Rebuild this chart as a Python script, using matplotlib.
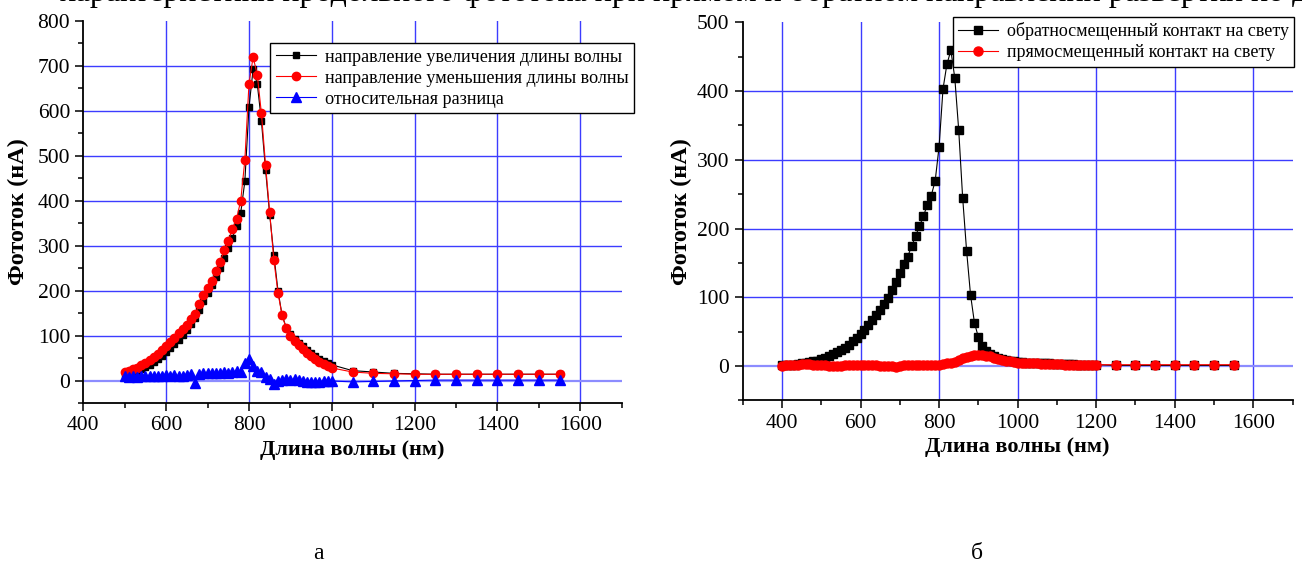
import numpy as np
import matplotlib.pyplot as plt
from matplotlib.ticker import MultipleLocator

plt.rcParams['font.family'] = ['Liberation Serif', 'DejaVu Serif']

# ---------------- данные: рисунок а ----------------
dl_a = [500, 510, 520, 530, 540, 550, 560, 570, 580, 590,
        600, 610, 620, 630, 640, 650, 660, 670, 680, 690,
        700, 710, 720, 730, 740, 750, 760, 770, 780, 790,
        800, 810, 820, 830, 840, 850, 860, 870, 880, 890,
        900, 910, 920, 930, 940, 950, 960, 970, 980, 990,
        1000, 1050, 1100, 1150, 1200, 1250, 1300, 1350, 1400, 1450,
        1500, 1550]

uvelich = [10, 13, 17, 21, 25, 30, 35, 41, 48, 55,
           63, 72, 81, 91, 101, 112, 125, 140, 157, 176,
           195, 212, 230, 250, 272, 295, 318, 343, 373, 443,
           608, 693, 660, 578, 469, 369, 280, 200, 145, 118,
           103, 93, 84, 76, 68, 61, 55, 49, 44, 39,
           35, 22, 19, 16, 15, 14, 14, 14, 14, 14,
           14, 14]

umensh = [18, 21, 25, 29, 34, 39, 45, 52, 59, 67,
          76, 85, 95, 105, 114, 124, 137, 147, 171, 190,
          206, 222, 243, 263, 290, 310, 338, 360, 400, 490,
          660, 720, 680, 595, 480, 374, 269, 195, 145, 116,
          100, 89, 79, 70, 62, 54, 47, 41, 36, 32,
          28, 19, 16, 15, 14, 14, 14, 14, 14, 14,
          14, 14]

raznica = [9, 8, 10, 8, 9, 10, 9, 11, 9, 10,
           12, 10, 12, 10, 11, 12, 15, -5, 14, 16,
           17, 16, 17, 16, 18, 17, 18, 22, 20, 40,
           48, 32, 22, 18, 8, 4, -8, -2, 2, 3,
           2, 3, 2, -2, -3, -3, -4, -3, -2, 0,
           -1, -3, -2, -1, 0, 1, 1, 1, 1, 1,
           1, 1]

# ---------------- данные: рисунок б ----------------
dl_b = [400, 410, 420, 430, 440, 450, 460, 470, 480, 490,
        500, 510, 520, 530, 540, 550, 560, 570, 580, 590,
        600, 610, 620, 630, 640, 650, 660, 670, 680, 690,
        700, 710, 720, 730, 740, 750, 760, 770, 780, 790,
        800, 810, 820, 830, 840, 850, 860, 870, 880, 890,
        900, 910, 920, 930, 940, 950, 960, 970, 980, 990,
        1000, 1010, 1020, 1030, 1040, 1050, 1060, 1070, 1080, 1090,
        1100, 1110, 1120, 1130, 1140, 1150, 1160, 1170, 1180, 1190,
        1200, 1250, 1300, 1350, 1400, 1450, 1500, 1550]

obratn = [1, 1, 2, 2, 3, 4, 5, 6, 7, 8,
          10, 12, 14, 17, 20, 23, 27, 31, 36, 41,
          47, 53, 60, 67, 74, 82, 90, 99, 110, 122,
          135, 149, 159, 174, 189, 203, 218, 234, 248, 269,
          319, 403, 439, 459, 419, 343, 245, 168, 104, 63,
          42, 29, 22, 17, 14, 12, 10, 9, 8, 7,
          6, 6, 5, 5, 5, 4, 4, 4, 4, 3,
          3, 3, 3, 3, 3, 2, 2, 2, 2, 2,
          2, 1, 1, 1, 1, 1, 1, 1]

pryam = [0, 1, 1, 2, 2, 3, 3, 3, 2, 2,
         1, 1, 0, 0, 0, 0, 1, 1, 1, 1,
         1, 1, 1, 1, 1, 0, 0, 0, 0, -1,
         0, 1, 1, 1, 1, 1, 1, 1, 1, 2,
         2, 3, 4, 5, 6, 9, 12, 13, 14, 16,
         16, 16, 15, 14, 12, 10, 9, 8, 7, 6,
         5, 5, 4, 4, 4, 4, 3, 3, 3, 3,
         3, 3, 2, 2, 2, 2, 2, 2, 2, 2,
         2, 2, 2, 2, 2, 2, 2, 2]

leg_a = ['направление увеличения длины волны',
         'направление уменьшения длины волны',
         'относительная разница']
leg_b = ['обратносмещенный контакт на свету',
         'прямосмещенный контакт на свету']

x_label = 'Длина волны (нм)'
y_label = 'Фототок (нА)'

SETKA = '#3c3cff'


def oformit(ax, xlim, ylim, ytop):
    ax.set_xlim(xlim)
    ax.set_ylim(ylim)
    ax.xaxis.set_major_locator(MultipleLocator(200))
    ax.xaxis.set_minor_locator(MultipleLocator(100))
    ax.yaxis.set_major_locator(MultipleLocator(100))
    ax.yaxis.set_minor_locator(MultipleLocator(50))
    for s in ['top', 'right']:
        ax.spines[s].set_visible(False)
    for s in ['left', 'bottom']:
        ax.spines[s].set_linewidth(1.3)
    ax.tick_params(which='major', direction='out', length=6, width=1.1, labelsize=15.5, pad=3.5)
    ax.tick_params(which='minor', direction='out', length=3.5, width=1.1)

    # сетка: только внутри, без линий на краях
    for x in range(400, 1700, 200):
        if x > xlim[0]:
            ax.axvline(x, color=SETKA, lw=1, zorder=0)
    for y in range(100, ytop, 100):
        ax.axhline(y, color=SETKA, lw=1, zorder=0)
    ax.axhline(0, color='#8c8cff', lw=1.6, zorder=0)

    ax.set_xlabel(x_label, fontsize=16, fontweight='bold')
    ax.set_ylabel(y_label, fontsize=17.5, fontweight='bold')


fig = plt.figure(figsize=(13.02, 5.62), dpi=100)
ax1 = fig.add_axes([0.064, 0.2829, 0.4135, 0.6797])
ax2 = fig.add_axes([0.5704, 0.2874, 0.4224, 0.6731])

# рисунок а
ax1.plot(dl_a, uvelich, color='black', lw=0.8, marker='s', ms=5, label=leg_a[0])
ax1.plot(dl_a, umensh, color='red', lw=0.8, marker='o', ms=6, label=leg_a[1])
ax1.plot(dl_a, raznica, color='blue', lw=0.8, marker='^', ms=6.5, label=leg_a[2])
oformit(ax1, (400, 1700), (-50, 800), 800)
ax1.xaxis.set_label_coords(0.5, -0.097)
ax1.yaxis.set_label_coords(-0.101, 0.5)
ax1.legend(loc='upper left', bbox_to_anchor=(0.347, 0.942), fontsize=13.1,
           frameon=True, fancybox=False, edgecolor='black', framealpha=1,
           handlelength=2.2, borderpad=0.3, labelspacing=0.22, handletextpad=0.5,
           borderaxespad=0)

# рисунок б
ax2.plot(dl_b, obratn, color='black', lw=0.8, marker='s', ms=5.5, label=leg_b[0])
ax2.plot(dl_b, pryam, color='red', lw=0.8, marker='o', ms=6.5, label=leg_b[1])
oformit(ax2, (300, 1700), (-50, 500), 500)
ax2.xaxis.set_label_coords(0.5, -0.097)
ax2.yaxis.set_label_coords(-0.092, 0.5)
leg = ax2.legend(loc='upper left', bbox_to_anchor=(0.382, 1.0137), fontsize=13.0,
                 frameon=True, fancybox=False, edgecolor='black', framealpha=1,
                 handlelength=2.2, borderpad=0.3, labelspacing=0.22, handletextpad=0.5,
                 borderaxespad=0)
leg.set_clip_on(False)

# подписи рисунков и обрезанная строка текста сверху
fig.text(318 / 1302, 0.006, 'а', fontsize=17, ha='center', va='baseline')
fig.text(977 / 1302, 0.006, 'б', fontsize=17, ha='center', va='baseline')
fig.text(60 / 1302, 1 - 1.5 / 562, 'характеристики продольного фототока при прямом и обратном направлении развертки по длине волны',
         fontsize=23, ha='left', va='baseline')

fig.savefig('out.png', dpi=100)
